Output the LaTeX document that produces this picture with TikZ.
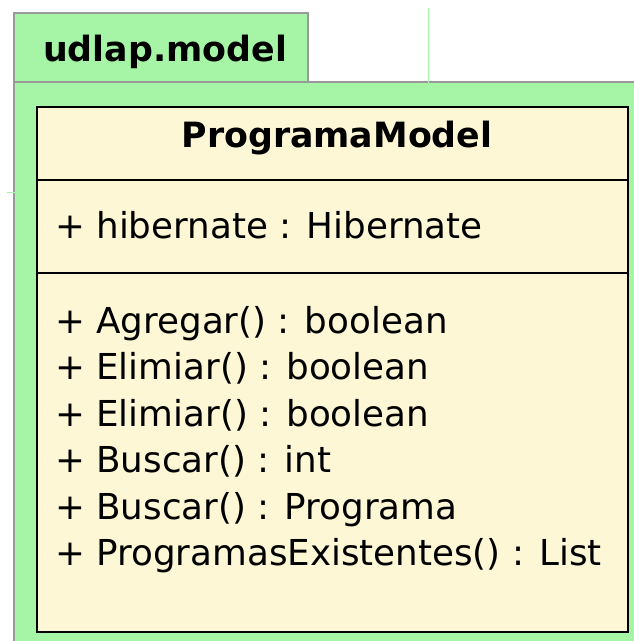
\documentclass[tikz,border=0pt]{standalone}
\usepackage{fontspec}
\setmainfont{DejaVu Sans}
\usepackage{tikz}
\definecolor{pkggreen}{HTML}{A6F5A6}
\definecolor{clscream}{HTML}{FDF7D6}
\definecolor{pkggray}{HTML}{999999}
\tikzset{
  member/.style={anchor=base west, inner sep=0pt, font=\fontsize{35.7}{42}\selectfont},
  title/.style={anchor=base, inner sep=0pt, font=\fontsize{34.8}{42}\selectfont\bfseries}
}

\begin{document}
\begin{tikzpicture}[x=1pt, y=-1pt]
\useasboundingbox (0,0) rectangle (634,641);
% package
\fill[pkggreen] (14,82) rectangle (634,641);
\draw[pkggray, line width=2pt, fill=pkggreen] (14,13) rectangle (308,82);
\draw[pkggray, line width=2pt] (14,641) -- (14,82) -- (634,82);
\draw[pkggreen, line width=1pt] (428,8) -- (428,108);
\draw[pkggreen, line width=1pt] (7,192) -- (39,192);
\node[title] (pkg) at (165,61) {udlap.model};

% class
\draw[black, line width=2pt, fill=clscream] (37,107) rectangle (628,632);
\draw[black, line width=2pt] (37,180) -- (628,180);
\draw[black, line width=2pt] (37,273) -- (628,273);
\node[title] (cls) at (337,147) {ProgramaModel};

\node[member] (attr) at (55,238) {+ hibernate : Hibernate};

\node[member] (op1) at (55,333) {+ Agregar() : boolean};
\node[member] (op2) at (55,379.5) {+ Elimiar() : boolean};
\node[member] (op3) at (55,426) {+ Elimiar() : boolean};
\node[member] (op4) at (55,472.5) {+ Buscar() : int};
\node[member] (op5) at (55,519) {+ Buscar() : Programa};
\node[member] (op6) at (55,565.5) {+ ProgramasExistentes() : List};
\end{tikzpicture}
\end{document}
